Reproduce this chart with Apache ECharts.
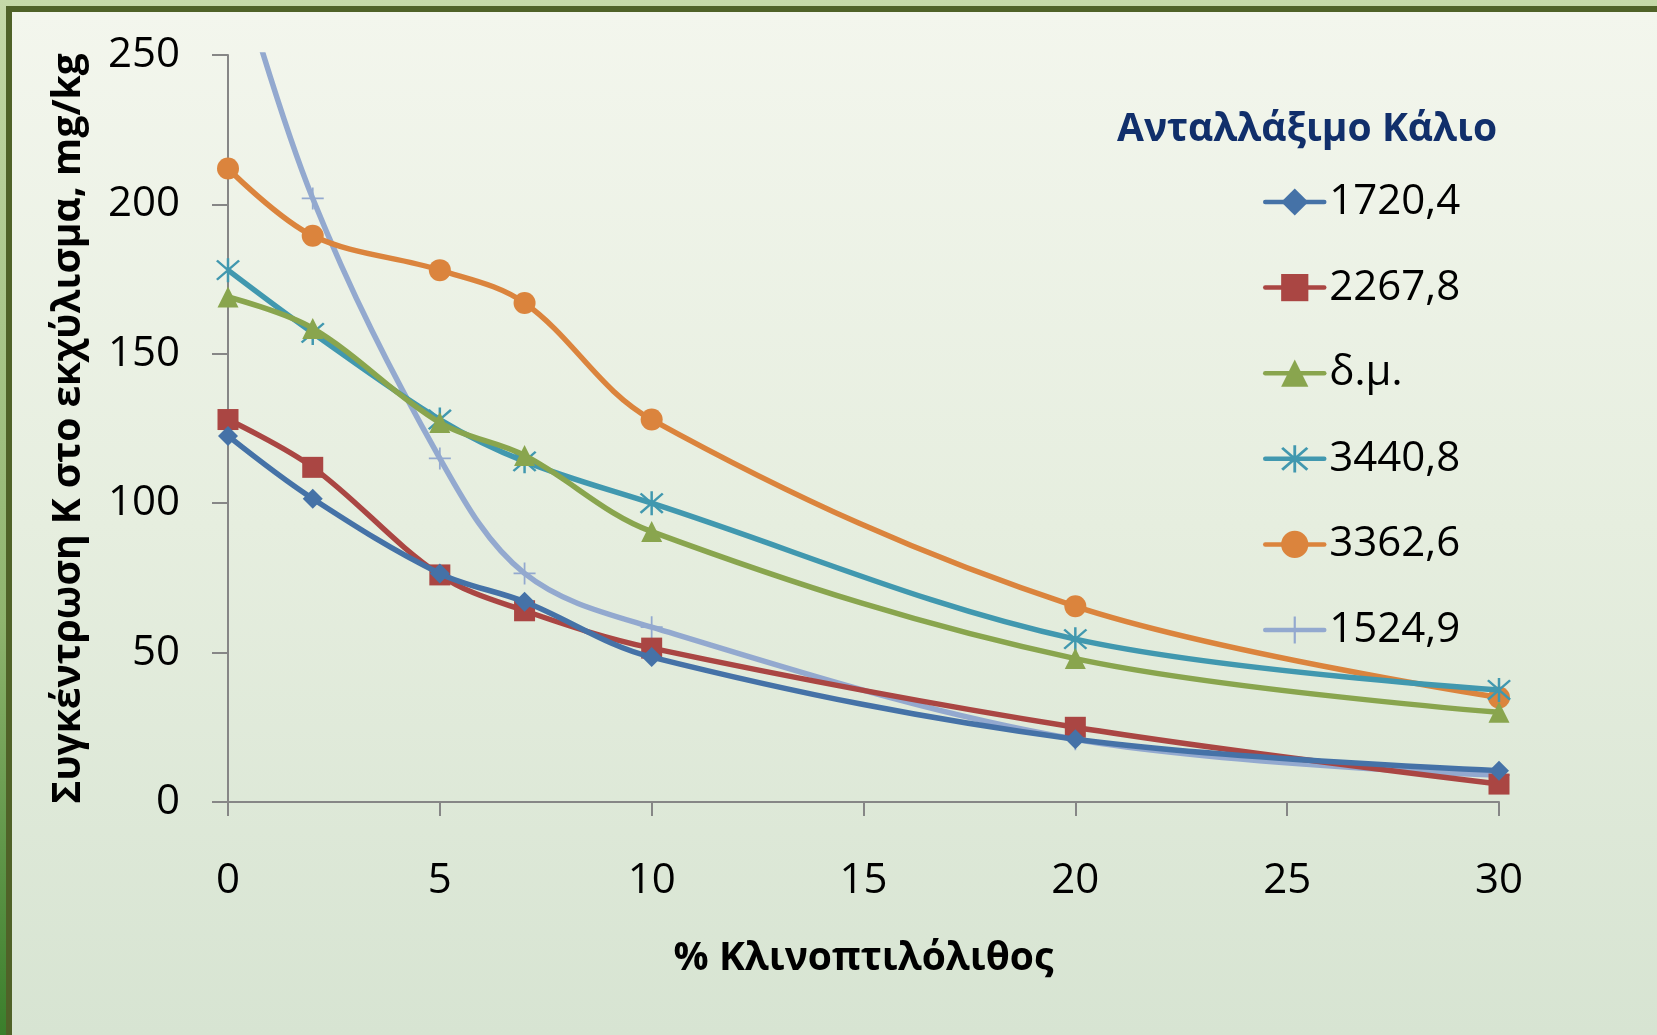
<!DOCTYPE html>
<html>
<head>
<meta charset="utf-8">
<script src="https://cdn.jsdelivr.net/npm/echarts@6/dist/echarts.min.js"></script>
<style>
    html, body {margin: 0; padding: 0; width: 1657px; height: 1035px; overflow: hidden;}
    body {background: linear-gradient(to bottom, #c5d9a8 0%, #8fb46e 60%, #3a7e2b 100%);}
    #frame {
        position: absolute; left: 6px; top: 6px; right: 0; bottom: 0;
        border-top: 6px solid #4f6228; border-left: 6px solid #4f6228;
        background: linear-gradient(to bottom, #f3f6ed 0%, #e6eedf 50%, #d7e4d2 100%);
    }
    #myChart {position: absolute; left: 0; top: 0; width: 1657px; height: 1035px;}
</style>
</head>
<body>
<div id="frame"></div>
<div id="myChart"></div>
<script>
    // % κλινοπτιλόλιθος
    const xValues = [0, 2, 5, 7, 10, 20, 30];

    const seriesNames = ['1720,4', '2267,8', 'δ.μ.', '3440,8', '3362,6', '1524,9'];

    const k17204 = [122.5, 101.5, 76.5, 67, 48.5, 21, 10.5];
    const k22678 = [128, 112, 76, 64, 51.5, 25, 6];
    const kDm = [169, 158.5, 127, 116, 90.5, 48, 30];
    const k34408 = [178, 157, 128, 114, 100, 54.5, 37.5];
    const k33626 = [212, 189.5, 178, 167, 128, 65.5, 35];
    const k15249 = [290, 202, 115, 76.5, 58.5, 21, 9];

    const yTicks = [0, 50, 100, 150, 200, 250];

    const colors = ['#4572a7', '#aa4643', '#89a54e', '#4198af', '#db843d', '#93a9cf'];

    // asterisk and plus markers drawn as thin filled shapes
    const starPath = 'path://M9.1,0L10.9,0L10.9,20L9.1,20Z' +
        'M1.3,2.6L2.6,1.3L18.7,17.4L17.4,18.7Z' +
        'M17.4,1.3L18.7,2.6L2.6,18.7L1.3,17.4Z';
    const plusPath = 'path://M9.2,0L10.8,0L10.8,20L9.2,20ZM0,9.2L20,9.2L20,10.8L0,10.8Z';

    const symbols = ['diamond', 'rect', 'triangle', starPath, 'circle', plusPath];
    const symbolSizes = [20, 21, 21, 24, 22, 22];

    const allValues = [k17204, k22678, kDm, k34408, k33626, k15249];

    const fontName = '"Open Sans", "Noto Sans", sans-serif';

    let series = seriesNames.map((name, i) => ({
        name: name,
        type: 'line',
        smooth: 0.35,
        clip: true,
        data: xValues.map((x, j) => [x, allValues[i][j]]),
        symbol: symbols[i],
        symbolSize: symbolSizes[i],
        lineStyle: {width: 5.5, color: colors[i]},
        itemStyle: {color: colors[i]},
        z: 10 - i
    }));

    let myChart = echarts.init(document.getElementById('myChart'));
    myChart.setOption({
        animation: false,
        title: {
            text: 'Ανταλλάξιμο Κάλιο',
            left: 1117,
            top: 110,
            padding: 0,
            textStyle: {fontFamily: fontName, fontSize: 39, fontWeight: 'bold', color: '#112f6b'}
        },
        legend: {
            orient: 'vertical',
            left: 1263,
            top: 181,
            padding: 0,
            itemWidth: 59,
            itemHeight: 34,
            itemGap: 43.6,
            lineStyle: {width: 4.5, cap: 'round'},
            textStyle: {fontFamily: fontName, fontSize: 42, color: '#000', lineHeight: 40, padding: [0, 0, 0, 0]},
            data: seriesNames
        },
        grid: {left: 228, right: 158, top: 55, bottom: 233, containLabel: false},
        xAxis: {
            type: 'value',
            min: 0,
            max: 30,
            interval: 5,
            name: '% Κλινοπτιλόλιθος',
            nameLocation: 'middle',
            nameGap: 137,
            nameTextStyle: {fontFamily: fontName, fontSize: 39, fontWeight: 'bold', color: '#000'},
            axisLine: {lineStyle: {color: '#868686', width: 2}},
            axisTick: {length: 14, lineStyle: {color: '#868686', width: 2}},
            axisLabel: {margin: 58, fontFamily: fontName, fontSize: 42, color: '#000'},
            splitLine: {show: false}
        },
        yAxis: {
            type: 'value',
            min: yTicks[0],
            max: yTicks[yTicks.length - 1],
            interval: yTicks[1] - yTicks[0],
            name: 'Συγκέντρωση Κ στο εκχύλισμα, mg/kg',
            nameLocation: 'middle',
            nameGap: 140,
            nameTextStyle: {fontFamily: fontName, fontSize: 39, fontWeight: 'bold', color: '#000'},
            axisLine: {show: true, lineStyle: {color: '#868686', width: 2}},
            axisTick: {show: true, length: 16, lineStyle: {color: '#868686', width: 2}},
            axisLabel: {margin: 48, fontFamily: fontName, fontSize: 42, color: '#000'},
            splitLine: {show: false}
        },
        series: series
    });
</script>
</body>
</html>
